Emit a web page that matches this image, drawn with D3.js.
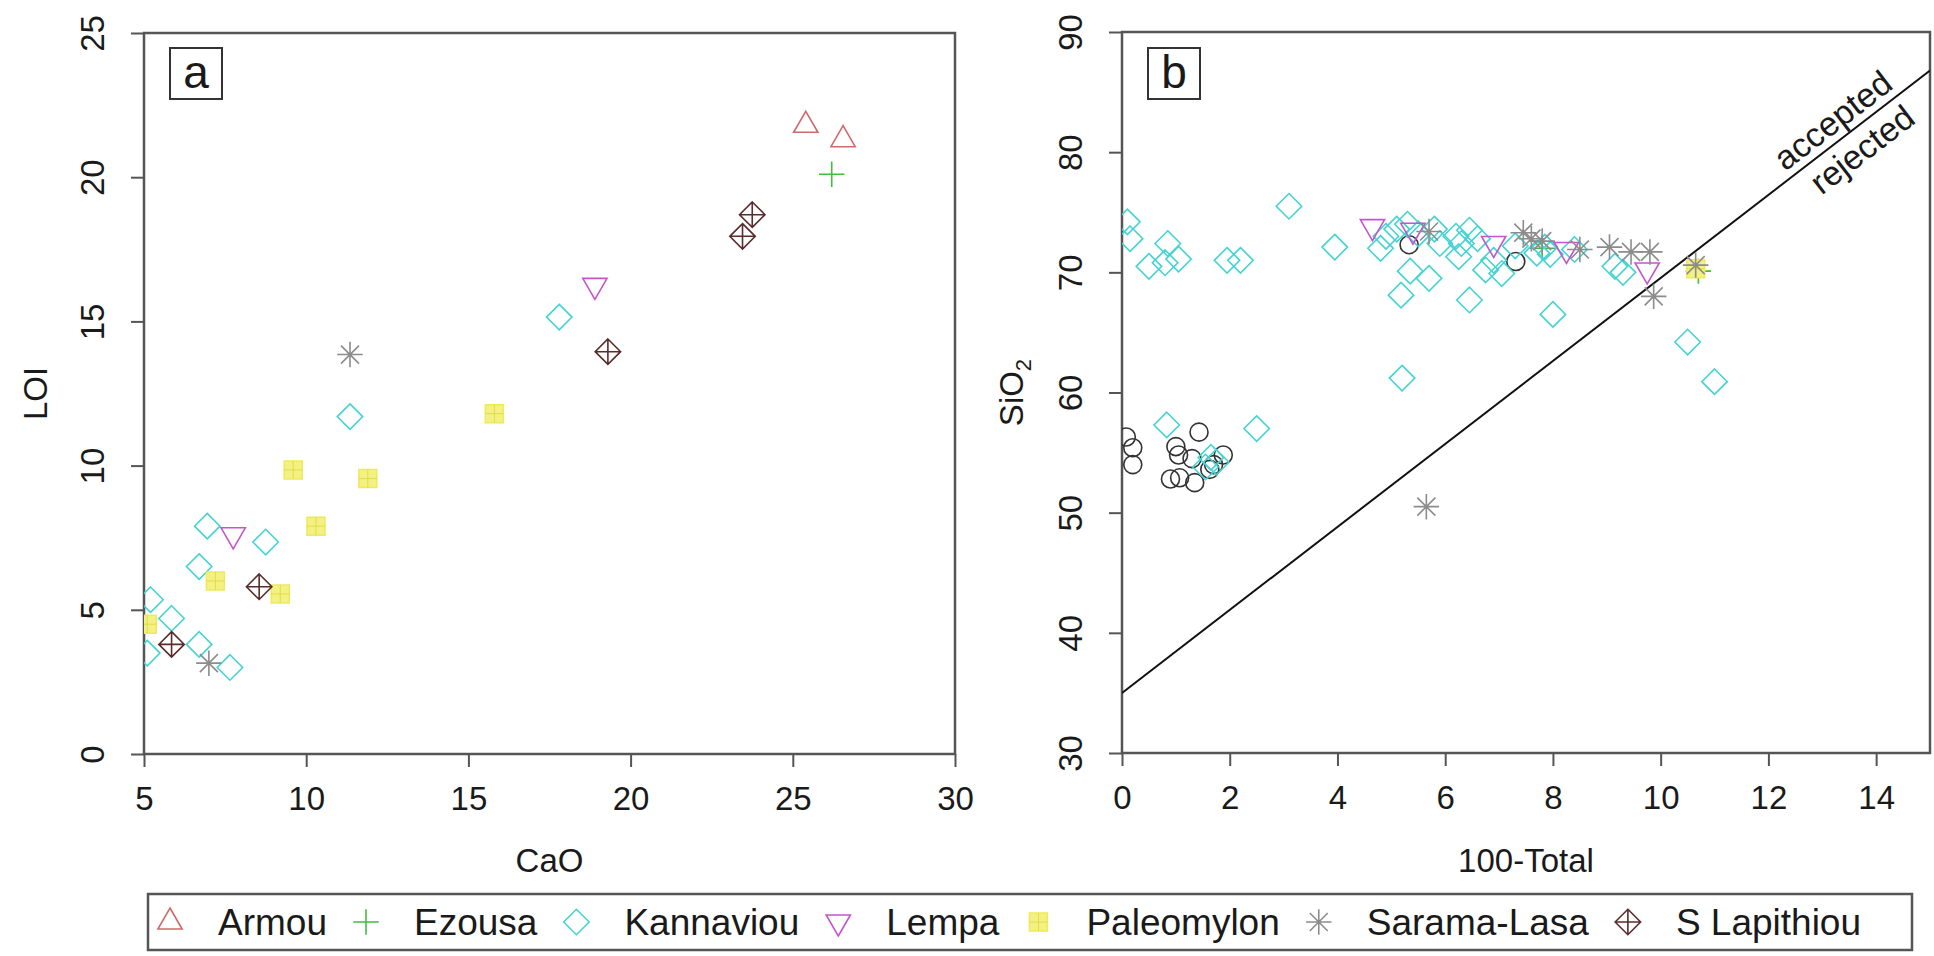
<!DOCTYPE html>
<html>
<head>
<meta charset="utf-8">
<script src="https://cdn.jsdelivr.net/npm/d3@7"></script>
<style>
  body { margin: 0; background: #fff; }
  svg { display: block; }
  text { font-family: "Liberation Sans", Arial, sans-serif; fill: #1a1a1a; }
</style>
</head>
<body>
<svg id="chart" width="1934" height="956"></svg>
<script>
// ---- series definitions ----
const seriesNames  = ["Armou", "Ezousa", "Kannaviou", "Lempa", "Paleomylon", "Sarama-Lasa", "S Lapithiou"];
const seriesColors = ["#cf6a6a", "#3fbf3f", "#45d3d3", "#c455cc", "#eeea5a", "#8c8c8c", "#5a2c2c"];
const seriesShapes = ["triUp", "plus", "diamond", "triDown", "square", "asterisk", "diamondPlus"];
const otherColor = "#333333";

// ---- panel a: CaO vs LOI ----
const caoTicks = [5, 10, 15, 20, 25, 30];
const loiTicks = [0, 5, 10, 15, 20, 25];
const armouA      = [[25.4, 21.8], [26.55, 21.3]];
const ezousaA     = [[26.2, 20.1]];
const kannaviouA  = [[17.8, 15.15], [11.35, 11.7], [6.95, 7.9], [8.75, 7.35], [6.7, 6.5],
                     [5.2, 5.35], [5.85, 4.7], [6.7, 3.8], [5.1, 3.5], [7.65, 3.0]];
const lempaA      = [[18.9, 16.25], [7.75, 7.6]];
const paleomylonA = [[15.8, 11.8], [9.6, 9.85], [11.9, 9.55], [10.3, 7.9], [7.2, 6.0], [9.2, 5.55], [5.1, 4.5]];
const saramaA     = [[11.35, 13.85], [7.0, 3.15]];
const lapithiouA  = [[23.75, 18.7], [23.45, 17.95], [19.3, 13.95], [8.55, 5.8], [5.85, 3.8]];

// ---- panel b: 100-Total vs SiO2 ----
const totalTicks = [0, 2, 4, 6, 8, 10, 12, 14];
const silicaTicks = [30, 40, 50, 60, 70, 80, 90];
const armouB      = [];
const ezousaB     = [[7.8, 72.0], [10.7, 70.1]];
const kannaviouB  = [[0.1, 74.2], [0.15, 72.8], [0.5, 70.5], [0.85, 72.4], [0.8, 70.8], [1.05, 71.1],
                     [1.95, 71.0], [2.2, 71.0], [3.1, 75.5], [3.95, 72.1], [4.8, 72.0], [4.9, 73.0],
                     [5.1, 73.6], [5.3, 74.0], [5.5, 73.2], [5.8, 73.6], [5.2, 61.2], [5.18, 68.1],
                     [5.35, 70.1], [5.7, 69.5], [6.45, 67.7], [5.9, 72.4], [6.2, 73.0], [6.3, 72.4],
                     [6.45, 73.5], [6.6, 72.8], [6.25, 71.3], [6.75, 70.2], [6.9, 71.0], [7.05, 69.9],
                     [7.3, 72.2], [7.7, 71.6], [7.85, 72.1], [7.95, 71.5], [8.4, 71.9], [8.0, 66.5],
                     [9.15, 70.5], [9.3, 70.0], [10.5, 64.2], [11.0, 60.9], [0.83, 57.3], [2.5, 57.0],
                     [1.55, 53.8], [1.75, 54.2], [1.65, 54.6]];
const lempaB      = [[4.65, 73.8], [5.4, 73.5], [6.9, 72.4], [8.25, 71.9], [9.75, 70.2]];
const paleomylonB = [[10.65, 70.3]];
const saramaB     = [[5.65, 50.5], [5.7, 73.4], [7.45, 73.3], [7.6, 72.8], [7.8, 72.6], [8.5, 71.9],
                     [9.05, 72.1], [9.45, 71.7], [9.8, 71.7], [9.87, 68.0], [10.65, 70.6]];
const lapithiouB  = [];
const otherB      = [[5.33, 72.3], [7.31, 70.9], [1.43, 56.7], [0.08, 56.3], [0.2, 55.4], [0.2, 54.0],
                     [1.0, 55.5], [1.05, 54.8], [1.3, 54.5], [0.9, 52.8], [1.07, 52.9], [1.35, 52.5],
                     [1.63, 53.6], [1.88, 54.8], [1.7, 54.0]];
// acceptance boundary (100-Total, SiO2)
const boundaryLine = [[0, 35], [15, 86.8]];

const seriesA = [armouA, ezousaA, kannaviouA, lempaA, paleomylonA, saramaA, lapithiouA];
const seriesB = [armouB, ezousaB, kannaviouB, lempaB, paleomylonB, saramaB, lapithiouB];

// ---- marker geometry (R-like symbol sizes) ----
const R0 = 9, R2 = R0 * Math.SQRT2;
function markerPath(shape) {
  const tr = 1.5551 * R0, ty = 0.7776 * R0, tx = 1.3468 * R0;
  switch (shape) {
    case "triUp":   return `M0,${-tr}L${tx},${ty}L${-tx},${ty}Z`;
    case "triDown": return `M0,${tr}L${tx},${-ty}L${-tx},${-ty}Z`;
    case "diamond": return `M0,${-R2}L${R2},0L0,${R2}L${-R2},0Z`;
    case "plus":    return `M${-R2},0H${R2}M0,${-R2}V${R2}`;
    case "asterisk":return `M${-R0},${-R0}L${R0},${R0}M${-R0},${R0}L${R0},${-R0}M${-R2},0H${R2}M0,${-R2}V${R2}`;
    case "diamondPlus": return `M0,${-R2}L${R2},0L0,${R2}L${-R2},0ZM${-R2},0H${R2}M0,${-R2}V${R2}`;
    case "square":  return `M${-R0},${-R0}H${R0}V${R0}H${-R0}Z`;
  }
}
function drawMarker(g, shape, color) {
  if (shape === "square") {
    g.append("path").attr("d", markerPath(shape)).attr("fill", "#f4f184").attr("stroke", color).attr("stroke-width", 1.5);
    g.append("path").attr("d", `M${-R0},0H${R0}M0,${-R0}V${R0}`).attr("stroke", "#e2dc45").attr("stroke-width", 1);
  } else {
    g.append("path").attr("d", markerPath(shape)).attr("fill", "none").attr("stroke", color).attr("stroke-width", 1.6);
  }
}

const svg = d3.select("#chart");
const TICK_FONT = 33, TITLE_FONT = 33;

function panel(opts) {
  const { x, y, xTicks, yTicks, id, letter, xTitle, series, other } = opts;
  const [x0, x1] = x.range(), [y0, y1] = y.range();
  const g = svg.append("g");

  svg.append("clipPath").attr("id", id).append("rect")
    .attr("x", x0).attr("y", y1).attr("width", x1 - x0).attr("height", y0 - y1);

  // axes
  const ax = g.append("g").attr("transform", `translate(0,${y0})`)
    .call(d3.axisBottom(x).tickValues(xTicks).tickSize(13).tickSizeOuter(0));
  ax.select(".domain").remove();
  ax.selectAll(".tick line").attr("stroke", "#555").attr("stroke-width", 2);
  ax.selectAll(".tick text").attr("font-size", TICK_FONT).attr("dy", null).attr("y", 56);

  const ay = g.append("g").attr("transform", `translate(${x0},0)`)
    .call(d3.axisLeft(y).tickValues(yTicks).tickSize(13).tickSizeOuter(0));
  ay.select(".domain").remove();
  ay.selectAll(".tick line").attr("stroke", "#555").attr("stroke-width", 2);
  ay.selectAll(".tick text").attr("font-size", TICK_FONT)
    .attr("transform", "rotate(-90)").attr("text-anchor", "middle")
    .attr("x", 0).attr("y", -40).attr("dy", null);

  // frame
  g.append("rect").attr("x", x0).attr("y", y1).attr("width", x1 - x0).attr("height", y0 - y1)
    .attr("fill", "none").attr("stroke", "#555").attr("stroke-width", 2.5);

  // titles
  g.append("text").attr("x", (x0 + x1) / 2).attr("y", 872).attr("text-anchor", "middle")
    .attr("font-size", TITLE_FONT).text(xTitle);
  const yt = g.append("text").attr("transform", `translate(${x0 - opts.yTitleOffset},${(y0 + y1) / 2}) rotate(-90)`)
    .attr("text-anchor", "middle").attr("font-size", TITLE_FONT);
  opts.yTitle(yt);

  // panel letter
  g.append("rect").attr("x", x0 + 26).attr("y", 48).attr("width", 52).attr("height", 51)
    .attr("fill", "#fff").attr("stroke", "#333").attr("stroke-width", 2);
  g.append("text").attr("x", x0 + 52).attr("y", 88).attr("text-anchor", "middle")
    .attr("font-size", 46).text(letter);

  const plot = g.append("g").attr("clip-path", `url(#${id})`);
  if (opts.extra) opts.extra(plot);

  if (other) {
    plot.selectAll(".oth").data(other).join("circle")
      .attr("cx", d => x(d[0])).attr("cy", d => y(d[1])).attr("r", R0)
      .attr("fill", "none").attr("stroke", otherColor).attr("stroke-width", 1.6);
  }
  series.forEach((pts, i) => {
    pts.forEach(d => {
      const m = plot.append("g").attr("transform", `translate(${x(d[0])},${y(d[1])})`);
      drawMarker(m, seriesShapes[i], seriesColors[i]);
    });
  });
}

// panel a
const xA = d3.scaleLinear().domain([5, 30]).range([144, 955]);
const yA = d3.scaleLinear().domain([0, 25]).range([754, 33]);
panel({
  x: xA, y: yA, xTicks: caoTicks, yTicks: loiTicks, id: "clipA", letter: "a",
  xTitle: "CaO", yTitleOffset: 97, yTitle: t => t.text("LOI"), series: seriesA
});

// panel b
const xB = d3.scaleLinear().domain([0, 15]).range([1122, 1930]);
const yB = d3.scaleLinear().domain([30, 90]).range([753, 32]);
panel({
  x: xB, y: yB, xTicks: totalTicks, yTicks: silicaTicks, id: "clipB", letter: "b",
  xTitle: "100-Total", yTitleOffset: 99,
  yTitle: t => { t.append("tspan").text("SiO"); t.append("tspan").attr("font-size", 22).attr("dy", 8).text("2"); },
  series: seriesB, other: otherB,
  extra: p => {
    p.append("line")
      .attr("x1", xB(boundaryLine[0][0])).attr("y1", yB(boundaryLine[0][1]))
      .attr("x2", xB(boundaryLine[1][0])).attr("y2", yB(boundaryLine[1][1]))
      .attr("stroke", "#111").attr("stroke-width", 2);
  }
});

// boundary labels along the line
{
  const [p0, p1] = boundaryLine;
  const dx = xB(p1[0]) - xB(p0[0]), dy = yB(p1[1]) - yB(p0[1]);
  const ang = Math.atan2(dy, dx) * 180 / Math.PI;
  const slope = (p1[1] - p0[1]) / (p1[0] - p0[0]);
  const at = v => [xB(v), yB(p0[1] + slope * v)];
  const [ax1, ay1] = at(13.42);
  svg.append("text").attr("transform", `translate(${ax1},${ay1}) rotate(${ang}) translate(0,-8)`)
    .attr("text-anchor", "middle").attr("font-size", 34).text("accepted");
  const [ax2, ay2] = at(13.5);
  svg.append("text").attr("transform", `translate(${ax2},${ay2}) rotate(${ang}) translate(0,33)`)
    .attr("text-anchor", "middle").attr("font-size", 34).text("rejected");
}

// ---- legend (horizontal: symbol, label, constant gap between entries) ----
{
  const lg = svg.append("g");
  const LX = 148, LY = 894, LW = 1764, LH = 56, FONT = 37;
  const firstText = 218, symOffset = 48, entryGap = 87;
  lg.append("rect").attr("x", LX).attr("y", LY).attr("width", LW).attr("height", LH)
    .attr("fill", "#fff").attr("stroke", "#555").attr("stroke-width", 2.5);
  const tmp = lg.append("text").attr("font-size", FONT);
  const widths = seriesNames.map(n => { tmp.text(n); return tmp.node().getComputedTextLength(); });
  tmp.remove();
  let tx = firstText;
  const midY = LY + LH / 2;
  seriesNames.forEach((n, i) => {
    const m = lg.append("g").attr("transform", `translate(${tx - symOffset},${midY})`);
    drawMarker(m, seriesShapes[i], seriesColors[i]);
    lg.append("text").attr("x", tx).attr("y", midY + 13).attr("font-size", FONT).text(n);
    tx += widths[i] + entryGap;
  });
}
</script>
</body>
</html>
